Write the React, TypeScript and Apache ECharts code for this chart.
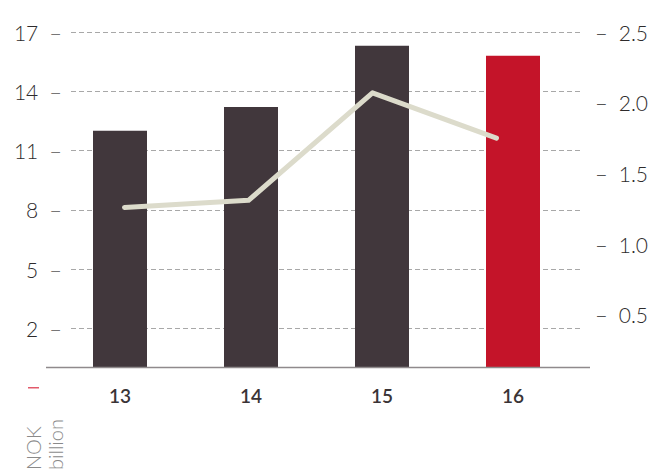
import React, { useEffect, useRef } from "react";
import * as echarts from "echarts";

const categories = ["13", "14", "15", "16"];
const barValues = [12.0, 13.2, 16.3, 15.8];
const lineValues = [1.26, 1.31, 2.07, 1.75];
const leftTicks = [2, 5, 8, 11, 14, 17];
const rightTicks = [0.5, 1.0, 1.5, 2.0, 2.5];
const unitLabel = "NOK\nbillion";

const FONT = "Lato, 'Open Sans', sans-serif";
const DARK = "#41373c";
const RED = "#c41429";

export default function App() {
  const ref = useRef<HTMLDivElement>(null);
  useEffect(() => {
    if (!ref.current) return;
    const chart = echarts.init(ref.current, undefined, { renderer: "svg" });
    const top = 32;
    const height = 336;
    chart.setOption({
      animation: false,
      textStyle: { fontFamily: FONT },
      grid: [
        { left: 54.5, width: 524, top, height },
        { left: 71, right: 69, top, height },
        { left: 62.5, width: 499, top, height },
      ],
      xAxis: [
        {
          type: "category",
          gridIndex: 0,
          data: categories,
          axisLine: { show: false },
          axisTick: { show: false },
          axisLabel: { margin: 18, fontSize: 19, color: "#3a3436", fontWeight: 600, fontFamily: FONT },
        },
        { type: "category", gridIndex: 1, data: categories, show: false },
        { type: "category", gridIndex: 2, data: categories, show: false, boundaryGap: true },
      ],
      yAxis: [
        { type: "value", gridIndex: 0, min: 0, max: 17, show: false, splitLine: { show: false } },
        {
          type: "value",
          gridIndex: 1,
          min: 0,
          max: 17,
          position: "left",
          axisLine: { show: false },
          axisTick: { show: false, customValues: leftTicks },
          splitLine: { show: true, lineStyle: { color: "#a8a8a8", type: [5, 3], width: 1 } },
          axisLabel: {
            customValues: leftTicks,
            margin: 9,
            formatter: (v: number) => `{v|${v}}{d|–}`,
            rich: {
              v: { fontSize: 21, color: "#2e2b2c", fontFamily: FONT, fontWeight: 300, padding: [0, 11, 0, 0] },
              d: { fontSize: 22, color: "#777", fontFamily: FONT, fontWeight: 300 },
            },
          },
        },
        {
          type: "value",
          gridIndex: 2,
          min: 0.125,
          max: 2.5,
          position: "right",
          axisLine: { show: false },
          axisTick: { show: false, customValues: rightTicks },
          splitLine: { show: false },
          axisLabel: {
            customValues: rightTicks,
            margin: 36.5,
            formatter: (v: number) => `{d|–}{v|${v.toFixed(1)}}`,
            rich: {
              v: { fontSize: 21, color: "#2e2b2c", fontFamily: FONT, fontWeight: 300 },
              d: { fontSize: 22, color: "#555", fontFamily: FONT, fontWeight: 300, padding: [0, 11, 0, 0] },
            },
          },
        },
      ],
      series: [
        {
          type: "bar",
          xAxisIndex: 0,
          yAxisIndex: 0,
          barWidth: 54,
          data: barValues.map((v, i) => ({
            value: v,
            itemStyle: { color: i === barValues.length - 1 ? RED : DARK },
          })),
          z: 3,
        },
        {
          type: "line",
          xAxisIndex: 2,
          yAxisIndex: 2,
          data: lineValues,
          symbol: "none",
          lineStyle: { color: "#dcdbcb", width: 5, cap: "round", join: "round" },
          z: 5,
        },
      ],
      graphic: [
        {
          type: "line",
          shape: { x1: 46, y1: 367.5, x2: 590, y2: 367.5 },
          style: { stroke: "#8f8a8c", lineWidth: 1.5 },
          z: 10,
        },
        {
          type: "rect",
          shape: { x: 28, y: 387, width: 11, height: 1.5 },
          style: { fill: "#e25a6b" },
        },
        {
          type: "text",
          x: 22,
          y: 470,
          rotation: Math.PI / 2,
          style: {
            text: unitLabel,
            fontSize: 20,
            lineHeight: 22,
            fill: "#8a8a8a",
            fontFamily: FONT,
            fontWeight: 300,
            align: "left",
            verticalAlign: "top",
          },
        },
      ],
    });
    return () => chart.dispose();
  }, []);
  return <div ref={ref} style={{ width: 651, height: 470, position: "absolute", left: 0, top: 0 }} />;
}
